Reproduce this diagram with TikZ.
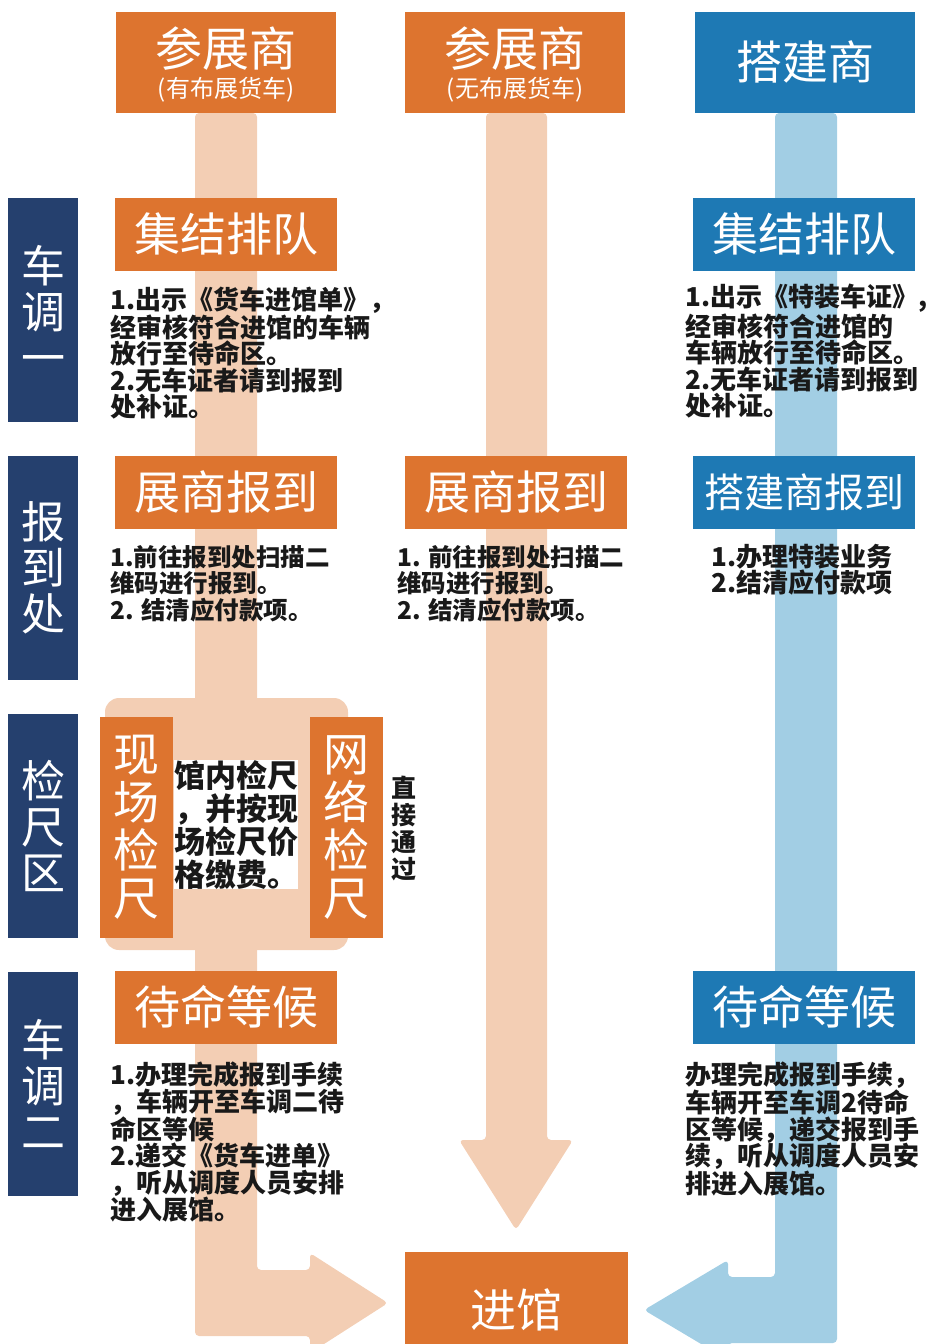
\documentclass[tikz,border=0pt]{standalone}
\usepackage{fontspec}
\usepackage{tikz}
\usetikzlibrary{positioning}
\newfontfamily\zhfont{Noto Sans CJK SC}
\definecolor{accent}{RGB}{221,116,47}
\definecolor{navy}{RGB}{37,64,110}
\definecolor{steel}{RGB}{30,121,180}
\definecolor{peach}{RGB}{243,206,180}
\definecolor{sky}{RGB}{162,206,228}
\definecolor{ink}{RGB}{25,25,25}
\tikzstyle{head} = [
    rectangle,
    minimum width=220pt,
    minimum height=101pt,
    inner sep=0pt,
    text=white,
    font=\zhfont\fontsize{46}{48}\selectfont
]
\tikzstyle{title} = [
    inner sep=0pt,
    text=white,
    font=\zhfont\fontsize{47}{48}\selectfont
]
\tikzstyle{subtitle} = [
    inner sep=0pt,
    text=white,
    font=\zhfont\fontsize{24}{26}\selectfont
]
\tikzstyle{stage} = [
    rectangle,
    minimum width=222pt,
    minimum height=73pt,
    inner sep=0pt,
    text=white,
    font=\zhfont\fontsize{46}{48}\selectfont
]
\tikzstyle{side} = [
    rectangle,
    fill=navy,
    minimum width=70pt,
    minimum height=224pt,
    inner sep=0pt,
    text=white,
    align=center,
    execute at begin node={\rule{0pt}{56pt}},
    font=\zhfont\fontsize{44}{46}\selectfont
]
\tikzstyle{check} = [
    rectangle,
    fill=accent,
    minimum width=73pt,
    minimum height=221pt,
    inner sep=0pt,
    text=white,
    align=center,
    execute at begin node={\rule{0pt}{72pt}},
    font=\zhfont\fontsize{46}{48}\selectfont
]
\tikzstyle{note} = [
    anchor=north west,
    inner sep=0pt,
    align=left,
    text=ink,
    font=\zhfont\bfseries\fontsize{26}{26.5}\selectfont
]
\tikzstyle{band} = [rounded corners=4pt]

\begin{document}
\begin{tikzpicture}[x=1pt,y=-1pt]
    \useasboundingbox (0,0) rectangle (928,1344);
    \fill[peach, band] (195,113) -- (257,113) -- (257,1270) -- (310,1270) -- (310,1253)
        -- (388,1303) -- (310,1353) -- (310,1336) -- (195,1336) -- cycle;
    \fill[peach, band] (486,113) -- (486,1140) -- (459,1140) -- (516,1230)
        -- (573,1140) -- (547,1140) -- (547,113) -- cycle;
    \fill[sky, band] (775,113) -- (775,1277) -- (728,1277) -- (728,1260) -- (644,1310)
        -- (728,1360) -- (728,1343) -- (837,1343) -- (837,113) -- cycle;
    \fill[peach, rounded corners=14pt] (105,698) rectangle (348,950);

    \node[head, fill=accent] (exh1) at (226,62) {};
    \node[title] at (226,49) {参展商};
    \node[subtitle] at (226,90) {(有布展货车)};
    \node[head, fill=accent] (exh2) at (515,62) {};
    \node[title] at (515,49) {参展商};
    \node[subtitle] at (515,90) {(无布展货车)};
    \node[head, fill=steel] (bld) at (805,62) {搭建商};

    \node[side] (lane1) at (43,310) {车\\调\\一};
    \node[side] (lane2) at (43,568) {报\\到\\处};
    \node[side] (lane3) at (43,826) {检\\尺\\区};
    \node[side] (lane4) at (43,1084) {车\\调\\二};

    \node[stage, fill=accent] (gather1) at (226,234) {集结排队};
    \node[stage, fill=steel] (gather3) at (804,234) {集结排队};
    \node[stage, fill=accent] (reg1) at (226,492) {展商报到};
    \node[stage, fill=accent] (reg2) at (516,492) {展商报到};
    \node[stage, fill=steel, font=\zhfont\fontsize{40}{42}\selectfont] (reg3) at (804,492) {搭建商报到};
    \node[stage, fill=accent] (wait1) at (226,1007) {待命等候};
    \node[stage, fill=steel] (wait3) at (804,1007) {待命等候};
    \node[stage, fill=accent, minimum width=223pt, minimum height=116pt] (enter) at (516,1310) {进馆};

    \node[note] (gather1-note) at (110,287) {1.出示《货车进馆单》，\\经审核符合进馆的车辆\\放行至待命区。\\2.无车证者请到报到\\处补证。};
    \node[note] (gather3-note) at (685,284) {1.出示《特装车证》,\\经审核符合进馆的\\车辆放行至待命区。\\2.无车证者请到报到\\处补证。};
    \node[note, font=\zhfont\bfseries\fontsize{24.5}{26.5}\selectfont] (reg1-note) at (110,545) {1.前往报到处扫描二\\维码进行报到。\\2. 结清应付款项。};
    \node[note, font=\zhfont\bfseries\fontsize{24.5}{26.5}\selectfont] (reg2-note) at (397,545) {1. 前往报到处扫描二\\维码进行报到。\\2. 结清应付款项。};
    \node[note, anchor=north, align=center] (reg3-note) at (802,544) {1.办理特装业务\\2.结清应付款项};

    \node[check] (onsite) at (136,827) {现\\场\\检\\尺};
    \node[check] (online) at (346,827) {网\\络\\检\\尺};
    \node[note, fill=white, font=\zhfont\bfseries\fontsize{31}{33}\selectfont] (onsite-note) at (174,760) {馆内检尺\\，并按现\\场检尺价\\格缴费。};
    \node[note, anchor=center, align=center, font=\zhfont\bfseries\fontsize{25}{27}\selectfont] (online-note) at (404,828) {直\\接\\通\\过};

    \node[note] (wait1-note) at (110,1062) {1.办理完成报到手续\\，车辆开至车调二待\\命区等候\\2.递交《货车进单》\\，听从调度人员安排\\进入展馆。};
    \node[note] (wait3-note) at (685,1062) {办理完成报到手续，\\车辆开至车调2待命\\区等候，递交报到手\\续，听从调度人员安\\排进入展馆。};
\end{tikzpicture}
\end{document}
